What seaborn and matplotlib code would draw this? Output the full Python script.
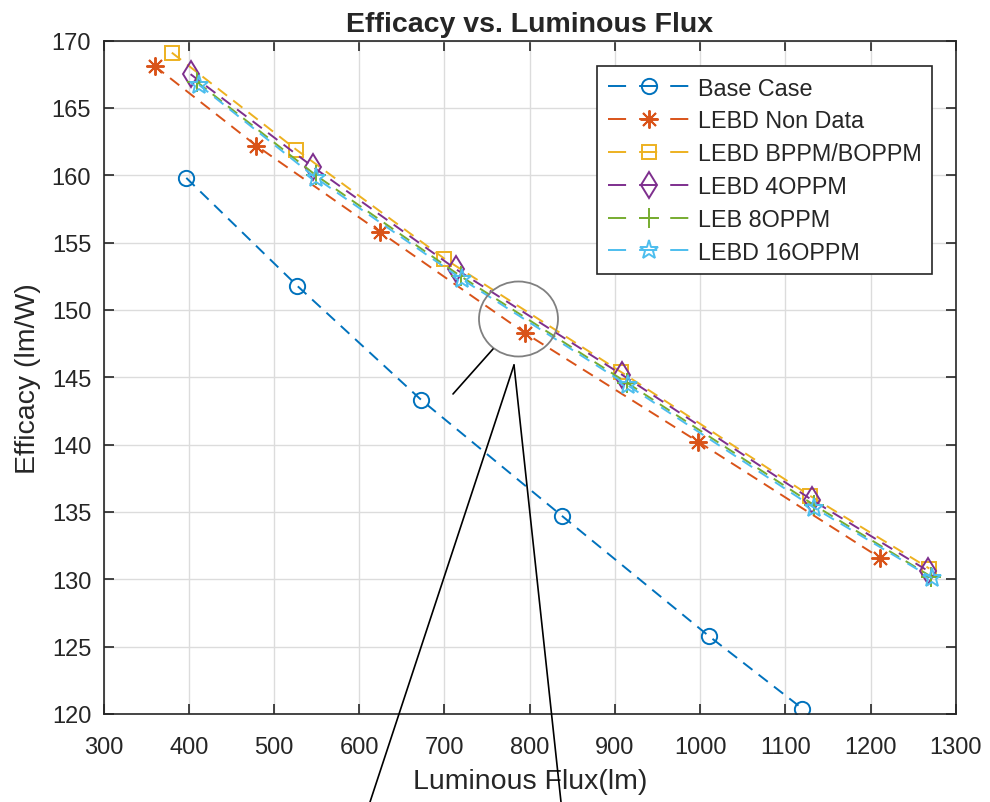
import matplotlib
matplotlib.use("Agg")
import matplotlib.pyplot as plt
from matplotlib.lines import Line2D
from matplotlib.patches import Ellipse
import numpy as np
import pandas as pd
import seaborn as sns

# Luminous flux (lm) and efficacy (lm/W) for each configuration
base_flux = [397, 527, 673, 838, 1010, 1120]
base_eff = [159.8, 151.8, 143.3, 134.7, 125.8, 120.4]

non_data_flux = [360, 479, 624, 794, 998, 1211]
non_data_eff = [168.1, 162.2, 155.8, 148.3, 140.2, 131.6]

bppm_flux = [380, 526, 700, 907, 1129, 1269]
bppm_eff = [169.1, 161.9, 153.8, 145.4, 136.2, 130.8]

oppm4_flux = [402, 546, 714, 908, 1131, 1268]
oppm4_eff = [167.5, 160.6, 153.0, 145.2, 135.9, 130.6]

oppm8_flux = [410, 549, 719, 914, 1134, 1271]
oppm8_eff = [166.9, 160.0, 152.5, 144.6, 135.5, 130.2]

oppm16_flux = [412, 549, 720, 915, 1134, 1272]
oppm16_eff = [166.7, 159.8, 152.3, 144.4, 135.3, 130.1]

series_names = ["Base Case", "LEBD Non Data", "LEBD BPPM/BOPPM",
                "LEBD 4OPPM", "LEB 8OPPM", "LEBD 16OPPM"]
series_flux = [base_flux, non_data_flux, bppm_flux, oppm4_flux, oppm8_flux, oppm16_flux]
series_eff = [base_eff, non_data_eff, bppm_eff, oppm4_eff, oppm8_eff, oppm16_eff]

colors = ["#0072BD", "#D95319", "#EDB120", "#7E2F8E", "#77AC30", "#4DBEEE"]
markers = ["o", (8, 2, 0), "s", "d", "+", "*"]
marker_sizes = [11, 13, 10, 13, 14, 14]

sns.set_style("ticks")
plt.rcParams["font.family"] = ["Liberation Sans", "DejaVu Sans"]

fig = plt.figure(figsize=(9.9, 8.03), dpi=100)
ax = fig.add_axes([0.1047, 0.1096, 0.8607, 0.8387])

frames = []
for name, fx, ef in zip(series_names, series_flux, series_eff):
    frames.append(pd.DataFrame({"Flux": fx, "Efficacy": ef, "Series": name}))
data = pd.concat(frames, ignore_index=True)

LW = 1.4
for name, col, mk, ms in zip(series_names, colors, markers, marker_sizes):
    sub = data[data["Series"] == name]
    sns.lineplot(data=sub, x="Flux", y="Efficacy", ax=ax, estimator=None, sort=False,
                 color=col, linewidth=LW, dashes=(6, 4), marker=mk,
                 markersize=ms, markerfacecolor="none", markeredgecolor=col,
                 markeredgewidth=LW, legend=False)

ax.set_xlim(300, 1300)
ax.set_ylim(120, 170)
ax.set_xticks(np.arange(300, 1301, 100))
ax.set_yticks(np.arange(120, 171, 5))
ax.grid(True, color="#dcdcdc", linewidth=1.0)
ax.set_axisbelow(True)
for sp in ax.spines.values():
    sp.set_visible(True)
    sp.set_color("#262626")
    sp.set_linewidth(1.2)
ax.tick_params(direction="in", length=7, width=1.2, top=True, right=True,
               labelsize=17, colors="#262626", pad=9)
ax.tick_params(axis="x", pad=16)

ax.set_xlabel("Luminous Flux(lm)", fontsize=20.5, color="#262626", labelpad=7)
ax.set_ylabel("Efficacy (lm/W)", fontsize=20.5, color="#262626", labelpad=8)
ax.set_title("Efficacy vs. Luminous Flux", fontsize=20.5, fontweight="bold", pad=7)

# Legend keys: dash, dash through the marker, dash
handles = [Line2D([], [], color=col, linewidth=LW, dashes=(9.3, 6.7),
                  marker=mk, markersize=ms, markerfacecolor="none",
                  markeredgecolor=col, markeredgewidth=LW)
           for col, mk, ms in zip(colors, markers, marker_sizes)]
leg = ax.legend(handles, series_names, loc="upper right", bbox_to_anchor=(0.972, 0.962),
                borderaxespad=0, fontsize=16.8, handlelength=3.5, handletextpad=0.35,
                labelspacing=0.42, frameon=True, fancybox=False, borderpad=0.45)
leg.get_frame().set_edgecolor("#262626")
leg.get_frame().set_linewidth(1.2)
leg.get_frame().set_alpha(1)

# Callout: circle around the crossing region with leader lines
W, H = 990, 803
def fp(x, y):
    return (x / W, 1 - y / H)

circ_c = fp(518.5, 320)
fig.add_artist(Ellipse(circ_c, 79 / W, 75 / H, transform=fig.transFigure,
                       fill=False, edgecolor="#808080", linewidth=1.3))
for (x0, y0), (x1, y1) in [((453, 395), (493, 350)),
                            ((514, 366), (370, 803)),
                            ((514, 366), (561, 803))]:
    a, b = fp(x0, y0), fp(x1, y1)
    fig.add_artist(Line2D([a[0], b[0]], [a[1], b[1]], transform=fig.transFigure,
                          color="black", linewidth=1.2))

fig.savefig("out.png", dpi=100)
